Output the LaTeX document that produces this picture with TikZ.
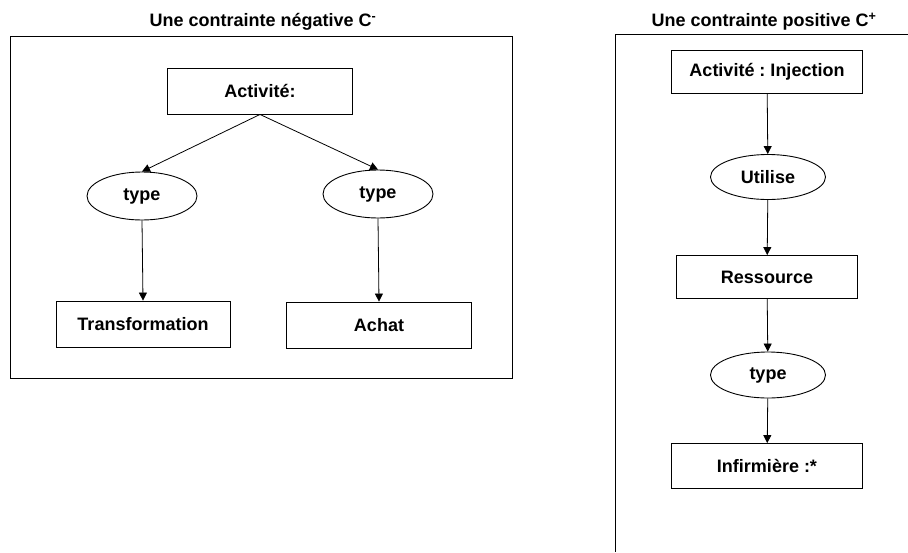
\documentclass[tikz,border=0pt]{standalone}
\usepackage{fontspec}
\setmainfont{Liberation Sans}
\usetikzlibrary{shapes.geometric,arrows.meta}
\frenchspacing
\begin{document}
\begin{tikzpicture}[x=1pt,y=-1pt,
  every node/.style={font=\fontsize{18}{21}\selectfont\bfseries, inner sep=0pt},
  box/.style={draw, line width=0.9pt, rectangle},
  oval/.style={draw, line width=0.9pt, ellipse},
  frame/.style={draw, line width=0.9pt},
  arr/.style={line width=0.8pt, -{Triangle[length=8pt,width=8pt]}},
  title/.style={font=\fontsize{18}{21}\selectfont\bfseries}
]
\useasboundingbox (0,0) rectangle (908,552);
% left panel
\node[title] (t1) at (263,22) {Une contrainte négative C\textsuperscript{-}};
\draw[frame] (10,36) rectangle (512,378);
\node[box, minimum width=185pt, minimum height=46pt] (act) at (260,91) {Activité:};
\node[oval, minimum width=110pt, minimum height=48pt] (ty1) at (142,196) {type};
\node[oval, minimum width=110pt, minimum height=48pt] (ty2) at (378,194) {type};
\node[box, minimum width=174pt, minimum height=46pt] (tr) at (143,324) {Transformation};
\node[box, minimum width=185pt, minimum height=46pt] (ach) at (379,325) {Achat};
\draw[arr] (act.south) -- (ty1.north);
\draw[arr] (act.south) -- (ty2.north);
\draw[arr] (ty1.south) -- (tr.north);
\draw[arr] (ty2.south) -- (ach.north);
% right panel
\node[title] (t2) at (764,22) {Une contrainte positive C\textsuperscript{+}};
\coordinate (fr1) at (908,34);
\coordinate (fr2) at (615,34);
\coordinate (fr3) at (615,552);
\draw[frame] (fr1) -- (fr2) -- (fr3);
\node[box, minimum width=191pt, minimum height=43pt] (inj) at (767,72) {Activité : Injection};
\node[oval, minimum width=115pt, minimum height=45pt] (uti) at (768,177) {Utilise};
\node[box, minimum width=181pt, minimum height=43pt] (res) at (767,277) {Ressource};
\node[oval, minimum width=115pt, minimum height=46pt] (ty3) at (768,375) {type};
\node[box, minimum width=191pt, minimum height=45pt] (inf) at (767,466) {Infirmière :*};
\draw[arr] (inj) -- (uti);
\draw[arr] (uti) -- (res);
\draw[arr] (res) -- (ty3);
\draw[arr] (ty3) -- (inf);
\end{tikzpicture}
\end{document}
